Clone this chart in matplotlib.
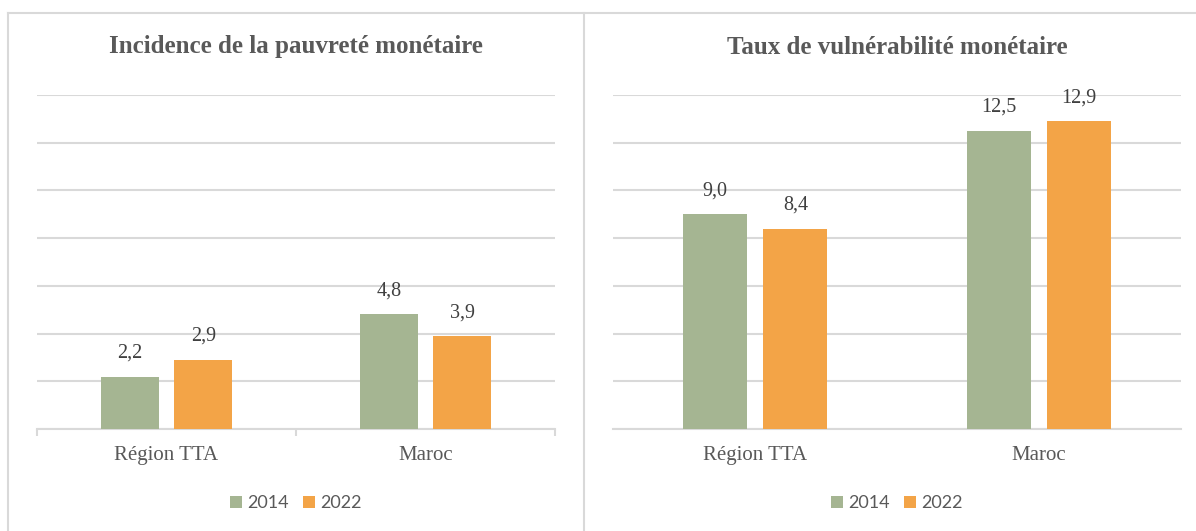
import numpy as np
import matplotlib.pyplot as plt
from matplotlib.lines import Line2D

# data
categories = ["Région TTA", "Maroc"]
years = ["2014", "2022"]
pauvrete_2014 = [2.2, 4.8]
pauvrete_2022 = [2.9, 3.9]
vulnerabilite_2014 = [9.0, 12.5]
vulnerabilite_2022 = [8.4, 12.9]

green = "#A5B592"
orange = "#F3A447"
grid_col = "#D9D9D9"
text_col = "#595959"
serif = ["Liberation Serif", "DejaVu Serif"]
sans = ["Lato", "DejaVu Sans"]

fig = plt.figure(figsize=(11.96, 5.31), dpi=100)
W, H = 1196, 531

# panel borders
fig.add_artist(Line2D([8 / W, 8 / W], [0, 1 - 13 / H], transform=fig.transFigure, color=grid_col, lw=1.5))
fig.add_artist(Line2D([584 / W, 584 / W], [0, 1 - 13 / H], transform=fig.transFigure, color=grid_col, lw=1.5))
fig.add_artist(Line2D([8 / W, 1], [1 - 13 / H, 1 - 13 / H], transform=fig.transFigure, color=grid_col, lw=1.5))


def draw(ax, v14, v22, title, boundary_ticks):
    x = np.arange(len(categories))
    w = 0.225
    off = 0.142
    b1 = ax.bar(x - off, v14, w, color=green, label=years[0], zorder=3)
    b2 = ax.bar(x + off, v22, w, color=orange, label=years[1], zorder=3)
    for bars, vals in ((b1, v14), (b2, v22)):
        for r, v in zip(bars, vals):
            ax.annotate(f"{v:.1f}".replace(".", ","),
                        (r.get_x() + r.get_width() / 2, r.get_height()),
                        xytext=(0, 10), textcoords="offset points",
                        ha="center", va="bottom", fontsize=14.5,
                        color="#404040", family=serif)
    ax.set_xlim(-0.5, 1.5)
    ax.set_ylim(0, 14)
    ax.set_yticks(np.arange(0, 15, 2))
    ax.yaxis.grid(True, color=grid_col, lw=1.5, zorder=0)
    ax.tick_params(axis="y", length=0, labelleft=False)
    ax.set_xticks(x)
    ax.set_xticklabels(categories, fontsize=15, color=text_col, family=serif)
    ax.tick_params(axis="x", length=0, pad=12)
    if boundary_ticks:
        ax.set_xticks([-0.5, 0.5, 1.5], minor=True)
        ax.tick_params(axis="x", which="minor", length=5, color=grid_col, width=1.5)
    for s in ("top", "right", "left"):
        ax.spines[s].set_visible(False)
    ax.spines["bottom"].set_color(grid_col)
    ax.spines["bottom"].set_linewidth(1.5)
    ax.text(0.5, 1 + 48 / 334, title, transform=ax.transAxes, ha="center", va="center",
            fontsize=18, fontweight="bold", color=text_col, family=serif)
    leg = ax.legend(loc="center", bbox_to_anchor=(0.5, -0.222), ncol=2, frameon=False,
                    handlelength=0.65, handleheight=0.65, handletextpad=0.3, columnspacing=0.8,
                    prop={"family": sans, "size": 13})
    for t in leg.get_texts():
        t.set_color(text_col)


ax1 = fig.add_axes([37 / W, 1 - 429 / H, 518 / W, 334 / H])
draw(ax1, pauvrete_2014, pauvrete_2022, "Incidence de la pauvreté monétaire", True)

ax2 = fig.add_axes([613 / W, 1 - 429 / H, 568 / W, 334 / H])
draw(ax2, vulnerabilite_2014, vulnerabilite_2022, "Taux de vulnérabilité monétaire", False)

fig.savefig("out.png", dpi=100)
